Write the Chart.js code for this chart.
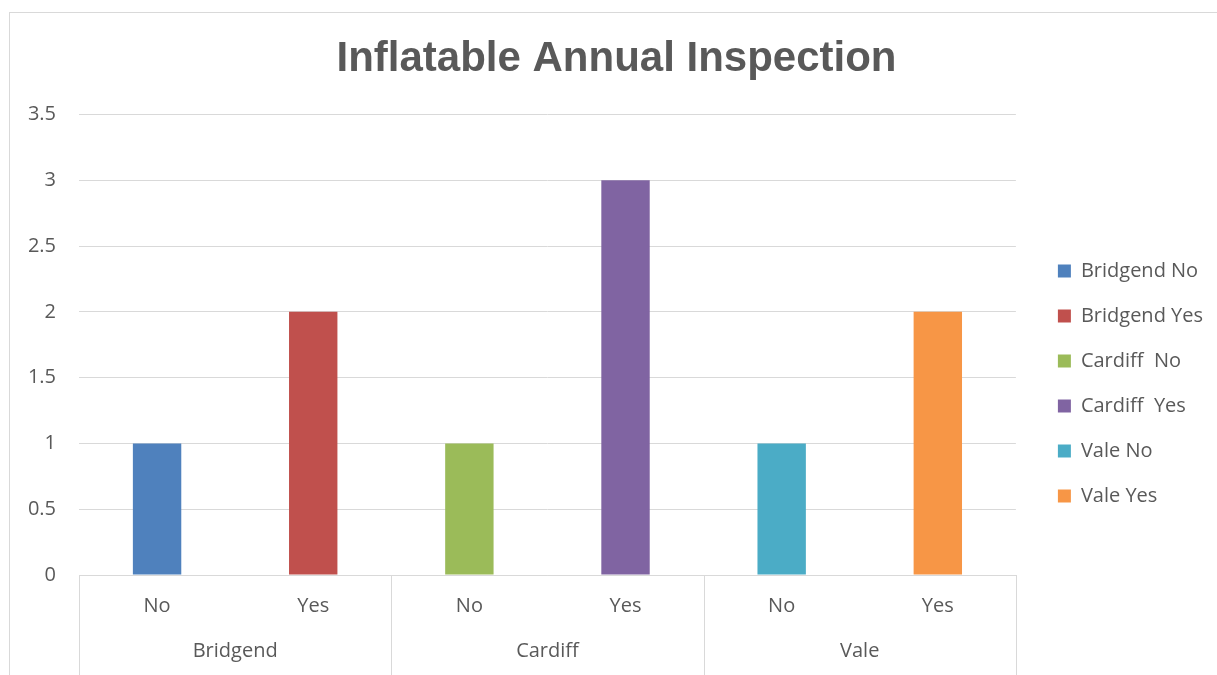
<!DOCTYPE html>
<html>
<head>
<meta charset="utf-8">
<title>Inflatable Annual Inspection</title>
<script src="https://cdn.jsdelivr.net/npm/chart.js@4/dist/chart.umd.min.js"></script>
<style>
    html, body { margin: 0; padding: 0; background: #fff; overflow: hidden; }
    #wrap { position: relative; width: 1217px; height: 675px; }
    #frame {
        position: absolute; left: 9px; top: 12px; width: 1240px; height: 700px;
        border: 1px solid #d9d9d9; box-sizing: border-box; pointer-events: none;
    }
</style>
</head>
<body>
<div id="wrap">
    <canvas id="inspectionChart" width="1217" height="675"></canvas>
    <div id="frame"></div>
</div>
<script>
(function() {
    'use strict';

    // Inspection results per site
    const categories = ['No', 'Yes', 'No', 'Yes', 'No', 'Yes'];
    const groups = ['Bridgend', 'Cardiff', 'Vale'];
    const seriesNames = ['Bridgend No', 'Bridgend Yes', 'Cardiff  No', 'Cardiff  Yes', 'Vale No', 'Vale Yes'];
    const counts = [1, 2, 1, 3, 1, 2];
    const colors = ['#4F81BD', '#C0504D', '#9BBB59', '#8064A2', '#4BACC6', '#F79646'];
    const yTicks = [0, 0.5, 1, 1.5, 2, 2.5, 3, 3.5];

    const textColor = '#595959';
    const lineColor = '#d9d9d9';
    const fontFamily = '"Open Sans", sans-serif';

    // Each series only has a value in its own category
    const datasets = seriesNames.map(function(name, i) {
        return {
            label: name,
            data: categories.map(function(_, j) { return j === i ? counts[i] : null; }),
            backgroundColor: colors[i],
            borderWidth: 0,
            skipNull: true
        };
    });

    // Group labels under the categories, with separators between groups
    const groupAxis = {
        id: 'groupAxis',
        afterDraw: function(chart) {
            const x = chart.scales.x;
            const ctx = chart.ctx;
            const area = chart.chartArea;
            const per = categories.length / groups.length;
            const half = (x.getPixelForValue(1) - x.getPixelForValue(0)) / 2;
            ctx.save();
            ctx.strokeStyle = lineColor;
            ctx.lineWidth = 1;
            for (let g = 0; g <= groups.length; g++) {
                const px = g < groups.length
                    ? x.getPixelForValue(g * per) - half
                    : x.getPixelForValue(categories.length - 1) + half;
                const sx = Math.round(px) + 0.5;
                ctx.beginPath();
                ctx.moveTo(sx, area.bottom);
                ctx.lineTo(sx, chart.height);
                ctx.stroke();
            }
            ctx.fillStyle = textColor;
            ctx.font = '20px ' + fontFamily;
            ctx.textAlign = 'center';
            ctx.textBaseline = 'middle';
            groups.forEach(function(name, g) {
                const first = x.getPixelForValue(g * per);
                const last = x.getPixelForValue(g * per + per - 1);
                ctx.fillText(name, (first + last) / 2, area.bottom + 76);
            });
            ctx.restore();
        }
    };

    new Chart(document.getElementById('inspectionChart'), {
        type: 'bar',
        data: { labels: categories, datasets: datasets },
        plugins: [groupAxis],
        options: {
            responsive: false,
            animation: false,
            layout: { padding: { left: 20, right: 4, top: 0, bottom: 0 } },
            datasets: { bar: { categoryPercentage: 1, barPercentage: 0.31 } },
            plugins: {
                title: {
                    display: true,
                    text: 'Inflatable Annual Inspection',
                    color: textColor,
                    font: { family: '"Liberation Sans", Arial, sans-serif', size: 42, weight: 'bold' },
                    padding: { top: 34, bottom: 30 }
                },
                legend: {
                    position: 'right',
                    title: {
                        display: true,
                        text: ' ',
                        font: { size: 10 },
                        padding: { top: 0, bottom: 80 }
                    },
                    labels: {
                        boxWidth: 13,
                        boxHeight: 13,
                        padding: 25,
                        color: textColor,
                        font: { family: fontFamily, size: 20 }
                    }
                },
                tooltip: { enabled: false }
            },
            scales: {
                x: {
                    grid: { display: false, drawTicks: false },
                    border: { display: true, color: lineColor },
                    ticks: { color: textColor, padding: 19, font: { family: fontFamily, size: 20 } },
                    afterFit: function(scale) { scale.height = 100; }
                },
                y: {
                    min: 0,
                    max: 3.5,
                    afterBuildTicks: function(scale) {
                        scale.ticks = yTicks.map(function(v) { return { value: v }; });
                    },
                    grid: { color: lineColor, drawTicks: false },
                    border: { display: false },
                    ticks: {
                        color: textColor,
                        padding: 23,
                        font: { family: fontFamily, size: 20 },
                        callback: function(value) { return String(value); }
                    },
                    afterFit: function(scale) { scale.width = 59; }
                },
                // empty strip between the plot and the legend
                gap: {
                    type: 'linear',
                    position: 'right',
                    grid: { display: false, drawTicks: false },
                    border: { display: false },
                    ticks: { display: false },
                    afterFit: function(scale) { scale.width = 17; }
                }
            }
        }
    });
})();
</script>
</body>
</html>
